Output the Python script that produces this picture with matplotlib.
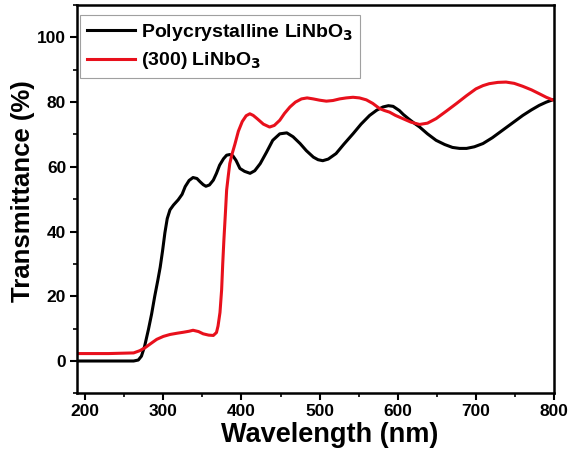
import matplotlib
matplotlib.use("Agg")
import matplotlib.pyplot as plt
from matplotlib.ticker import MultipleLocator

# Polycrystalline LiNbO3 (black)
poly_wl = [190, 230, 262, 268, 272, 276, 281, 285, 289, 293, 296, 299, 302, 305, 308.5, 313,
           319, 324, 328, 333, 338, 343, 347, 351, 354.5, 359, 364, 368, 372, 377, 381, 385,
           389, 393, 398, 404, 411, 417, 424, 432, 440, 449, 458, 466, 475, 483, 492, 498,
           504, 511, 521, 531, 543, 553, 564, 573, 581, 588, 594, 602, 607, 614, 621, 628,
           638, 649, 660, 670, 679, 688, 698, 709, 721, 734, 747, 760, 771, 781, 790, 798]
poly_t = [0, 0, 0, 0.3, 1.5, 4.5, 9.8, 14.5, 20, 25, 29, 34, 39.6, 44, 46.7, 48.2,
          49.8, 51.5, 53.9, 55.8, 56.7, 56.4, 55.4, 54.5, 54, 54.4, 55.9, 58, 60.5, 62.5, 63.6, 63.8,
          63.4, 62, 59.5, 58.6, 58, 58.8, 61, 64.5, 68.2, 70.2, 70.5, 69.3, 67.2, 65, 63, 62.2,
          61.9, 62.4, 64.1, 67, 70.3, 73.2, 75.9, 77.5, 78.5, 78.9, 78.7, 77.4, 76.2, 74.8, 73.5, 72.3,
          70.2, 68.2, 66.9, 66, 65.7, 65.7, 66.2, 67.2, 69, 71.3, 73.6, 75.9, 77.6, 79, 80, 80.7]

# (300) LiNbO3 (red)
epi_wl = [190, 230, 262, 270, 276.6, 284, 291.6, 300, 308.6, 318, 326, 333, 338, 345, 351,
          358, 364, 368, 370, 372.5, 374.6, 376, 377.5, 379.5, 381, 383, 385, 388, 391.6, 396,
          401, 406, 410.7, 415, 420, 428, 436, 442, 449, 455, 462, 469, 476.8, 484, 491.7, 500,
          508.6, 517, 525.7, 534, 542.7, 551, 559.8, 568, 576.8, 583, 589.5, 597, 606.5, 617,
          627.8, 638, 649, 662, 674.7, 688, 700, 709, 717, 728, 738.5, 749, 759.8, 771, 781, 790, 798]
epi_t = [2.3, 2.3, 2.5, 3.2, 4.1, 5.4, 6.7, 7.6, 8.2, 8.6, 8.9, 9.2, 9.5, 9.1, 8.4,
         8.0, 7.9, 8.8, 10.8, 15, 22, 30, 37.4, 46, 52.8, 57, 61, 64, 67, 71,
         74, 75.8, 76.4, 75.9, 74.9, 73.2, 72.3, 72.8, 74.4, 76.5, 78.5, 80, 81, 81.3, 81, 80.6,
         80.3, 80.5, 81, 81.3, 81.5, 81.3, 80.7, 79.6, 78, 77.4, 76.9, 75.9, 74.9, 73.8,
         73.1, 73.5, 74.9, 77.2, 79.5, 82, 84.1, 85.1, 85.7, 86.1, 86.2, 85.8, 84.9, 83.8, 82.6, 81.5, 80.7]

plt.rcParams['font.family'] = ['Liberation Sans', 'DejaVu Sans']
plt.rcParams['font.weight'] = 'bold'
plt.rcParams['mathtext.default'] = 'bf'

fig = plt.figure(figsize=(5.73, 4.59), dpi=100)
ax = fig.add_axes([0.135, 0.143, 0.832, 0.846])

ax.plot(poly_wl, poly_t, color='black', lw=2.2, label=r"Polycrystalline LiNbO$_\mathbf{3}$")
ax.plot(epi_wl, epi_t, color='#e8101c', lw=2.2, label=r"(300) LiNbO$_\mathbf{3}$")

ax.set_xlim(190, 800)
ax.set_ylim(-10, 110)
ax.xaxis.set_major_locator(MultipleLocator(100))
ax.xaxis.set_minor_locator(MultipleLocator(50))
ax.yaxis.set_major_locator(MultipleLocator(20))
ax.yaxis.set_minor_locator(MultipleLocator(10))
ax.tick_params(which='major', direction='out', length=5, width=1.5, labelsize=12.5, pad=3)
ax.tick_params(which='minor', direction='out', length=3, width=1.2)
for lab in ax.get_xticklabels() + ax.get_yticklabels():
    lab.set_fontweight('bold')
for s in ax.spines.values():
    s.set_linewidth(1.8)

ax.set_xlabel("Wavelength (nm)", fontsize=19.5, fontweight='bold')
ax.xaxis.set_label_coords(0.53, -0.075)
ax.set_ylabel("Transmittance (%)", fontsize=18.5, fontweight='bold')
ax.yaxis.set_label_coords(-0.088, 0.52)

leg = ax.legend(loc='upper left', bbox_to_anchor=(0.005, 0.975), borderaxespad=0,
                fontsize=14, frameon=True, fancybox=False,
                handlelength=2.5, handletextpad=0.3,
                borderpad=0.35, labelspacing=0.4)
leg.get_frame().set_edgecolor('#888888')
leg.get_frame().set_linewidth(0.8)

fig.savefig("out.png", dpi=100)
